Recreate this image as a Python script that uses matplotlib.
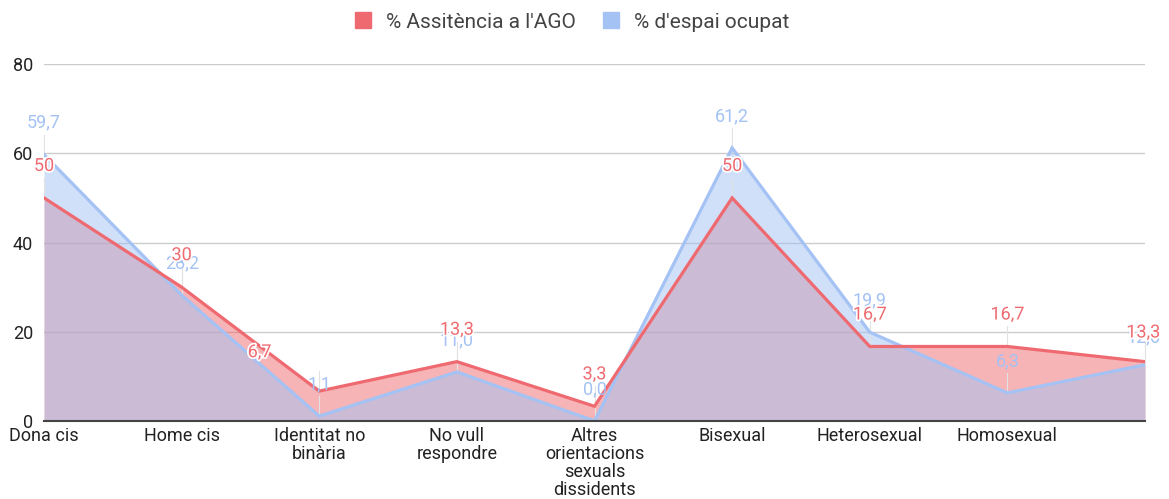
import matplotlib
matplotlib.use('Agg')
import matplotlib.pyplot as plt
import matplotlib.patheffects as pe
from matplotlib.patches import Patch
import numpy as np

matplotlib.rcParams.update({'font.family': ['Roboto', 'DejaVu Sans'], 'font.size': 13})

categories = ['Dona cis', 'Home cis', 'Identitat no\nbinària', 'No vull\nrespondre',
              'Altres\norientacions\nsexuals\ndissidents', 'Bisexual', 'Heterosexual',
              'Homosexual', '']
assistencia = [50, 30, 6.7, 13.3, 3.3, 50, 16.7, 16.7, 13.3]
espai = [59.7, 28.2, 1.1, 11.0, 0.0, 61.2, 19.9, 6.3, 12.6]
labels_assistencia = ['50', '30', '6,7', '13,3', '3,3', '50', '16,7', '16,7', '13,3']
labels_espai = ['59,7', '28,2', '1,1', '11,0', '0,0', '61,2', '19,9', '6,3', '12,6']
yticks = [0, 20, 40, 60, 80]

red = '#ef6a70'
blue = '#a4c2f4'

fig = plt.figure(figsize=(11.69, 4.99), dpi=100, facecolor='w')
ax = fig.add_axes([44 / 1169, 1 - 421 / 499, 1101 / 1169, 357 / 499])

x = np.arange(len(categories))
ax.fill_between(x, assistencia, 0, color=red, alpha=0.5, lw=0, zorder=2)
ax.fill_between(x, espai, 0, color=blue, alpha=0.5, lw=0, zorder=3)
ax.plot(x, espai, color=blue, lw=2.3, zorder=5, solid_joinstyle='miter')
ax.plot(x, assistencia, color=red, lw=2.3, zorder=6, solid_joinstyle='miter')

ax.set_xlim(0, len(categories) - 1)
ax.set_ylim(0, 80)
ax.set_yticks(yticks)
ax.set_xticks(x)
ax.set_xticklabels(categories, linespacing=1.0)
ax.tick_params(length=0, colors='#222222', labelsize=13)
ax.tick_params(axis='x', pad=4)
ax.tick_params(axis='y', pad=8)
ax.grid(axis='y', color='#cccccc', lw=1, zorder=1)
for s in ['top', 'right', 'left']:
    ax.spines[s].set_visible(False)
ax.spines['bottom'].set_color('#444444')
ax.spines['bottom'].set_linewidth(1.5)
ax.spines['bottom'].set_zorder(7)

halo = [pe.withStroke(linewidth=2.5, foreground='white')]

# offsets for labels that Sheets moved around
red_offsets = {2: (-43, 28)}
last = len(categories) - 1
for i in range(len(categories)):
    for vals, labs, col in [(assistencia, labels_assistencia, red), (espai, labels_espai, blue)]:
        dx, dy = 0, 23
        ha = 'center'
        if col == red and i in red_offsets:
            dx, dy = red_offsets[i]
        if i == last:
            dx, dy, ha = 11, (21 if col == red else 20), 'right'
        ax.plot([i, i], [vals[i], vals[i] + 4.5], color='#e2e2e2', lw=0.8, zorder=4, clip_on=False)
        ax.annotate(labs[i], (i, vals[i]), xytext=(dx, dy), textcoords='offset points',
                    ha=ha, va='center', color=col, fontsize=13, zorder=8 if col == blue else 9,
                    path_effects=halo if col == red else None, annotation_clip=False)

handles = [Patch(facecolor=red, edgecolor=red), Patch(facecolor=blue, edgecolor=blue)]
fig.legend(handles, ["% Assitència a l'AGO", "% d'espai ocupat"], loc='center',
           bbox_to_anchor=(572 / 1169, 1 - 22 / 499), ncol=2, frameon=False,
           handlelength=0.8, handleheight=0.8, handletextpad=0.7, columnspacing=1.3,
           fontsize=15, labelcolor='#444444')

fig.savefig('out.png', dpi=100, facecolor='w')
